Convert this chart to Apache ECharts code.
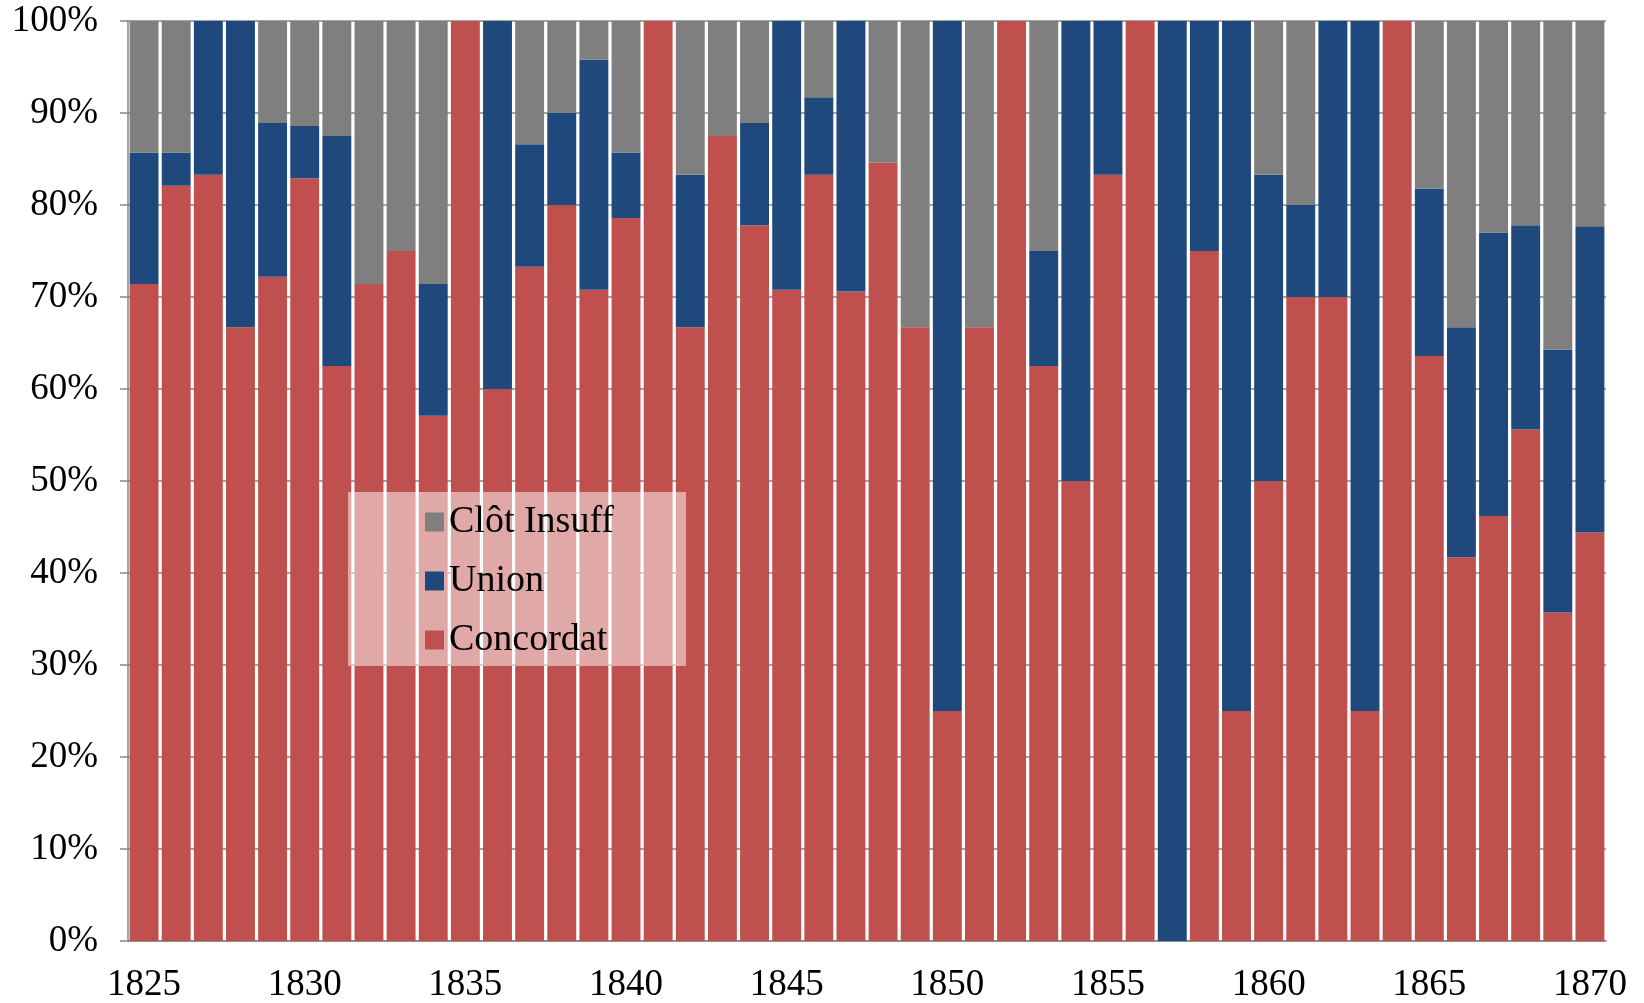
<!DOCTYPE html>
<html>
<head>
<meta charset="utf-8">
<script src="https://cdn.jsdelivr.net/npm/echarts@6/dist/echarts.min.js"></script>
<style>
  html, body { margin: 0; padding: 0; background: #fff; }
  #chart { width: 1644px; height: 1003px; }
</style>
</head>
<body>
<div id="chart"></div>
<script>
// years on the x axis
var years = ['1825','1826','1827','1828','1829','1830','1831','1832','1833','1834',
             '1835','1836','1837','1838','1839','1840','1841','1842','1843','1844',
             '1845','1846','1847','1848','1849','1850','1851','1852','1853','1854',
             '1855','1856','1857','1858','1859','1860','1861','1862','1863','1864',
             '1865','1866','1867','1868','1869','1870'];

// shares in percent
var concordat = [71.4, 82.1, 83.3, 66.7, 72.2, 82.9, 62.5, 71.4, 75, 57.1,
                 100, 60, 73.3, 80, 70.8, 78.6, 100, 66.7, 87.5, 77.8,
                 70.8, 83.3, 70.6, 84.6, 66.7, 25, 66.7, 100, 62.5, 50,
                 83.3, 100, 0, 75, 25, 50, 70, 70, 25, 100,
                 63.6, 41.7, 46.2, 55.6, 35.7, 44.4];
var union = [14.3, 3.6, 16.7, 33.3, 16.7, 5.7, 25, 0, 0, 14.3,
             0, 40, 13.3, 10, 25, 7.1, 0, 16.6, 0, 11.1,
             29.2, 8.4, 29.4, 0, 0, 75, 0, 0, 12.5, 50,
             16.7, 0, 100, 25, 75, 33.3, 10, 30, 75, 0,
             18.2, 25, 30.8, 22.2, 28.6, 33.3];
var clotInsuff = [14.3, 14.3, 0, 0, 11.1, 11.4, 12.5, 28.6, 25, 28.6,
                  0, 0, 13.4, 10, 4.2, 14.3, 0, 16.7, 12.5, 11.1,
                  0, 8.3, 0, 15.4, 33.3, 0, 33.3, 0, 25, 0,
                  0, 0, 0, 0, 0, 16.7, 20, 0, 0, 0,
                  18.2, 33.3, 23, 22.2, 35.7, 22.3];

var yTicks = { min: 0, max: 100, interval: 10 };

var chart = echarts.init(document.getElementById('chart'));
var axisGray = '#868686';
var font = 'Liberation Serif';

var option = {
  animation: false,
  color: ['#C0504D', '#1F497D', '#7F7F7F'],
  grid: { left: 128, right: 38, top: 21, bottom: 62, outerBoundsMode: 'none' },
  legend: {
    data: ['Clôt Insuff', 'Union', 'Concordat'],
    orient: 'vertical',
    left: 348,
    top: 492,
    padding: [10, 72, 6, 77],
    backgroundColor: 'rgba(255,255,255,0.5)',
    icon: 'rect',
    itemWidth: 19,
    itemHeight: 19,
    itemGap: 19,
    textStyle: { fontFamily: font, fontSize: 38, lineHeight: 40, color: '#000' }
  },
  xAxis: {
    type: 'category',
    data: years,
    axisLine: { lineStyle: { color: axisGray, width: 1.5 } },
    axisTick: { interval: 0, length: 10, lineStyle: { color: axisGray, width: 1.5 } },
    axisLabel: { interval: 4, margin: 26, fontFamily: font, fontSize: 37, color: '#000' }
  },
  yAxis: {
    type: 'value',
    min: yTicks.min,
    max: yTicks.max,
    interval: yTicks.interval,
    axisLine: { show: true, lineStyle: { color: axisGray, width: 1.5 } },
    axisTick: { show: true, length: 8, lineStyle: { color: axisGray, width: 1.5 } },
    axisLabel: { margin: 30, fontFamily: font, fontSize: 37, color: '#000', formatter: '{value}%' },
    splitLine: { lineStyle: { color: axisGray, width: 1.5 } }
  },
  series: [
    { name: 'Concordat', type: 'bar', stack: 'all', data: concordat, barCategoryGap: '10%' },
    { name: 'Union', type: 'bar', stack: 'all', data: union, barCategoryGap: '10%' },
    { name: 'Clôt Insuff', type: 'bar', stack: 'all', data: clotInsuff, barCategoryGap: '10%' }
  ]
};
chart.setOption(option);
</script>
</body>
</html>
